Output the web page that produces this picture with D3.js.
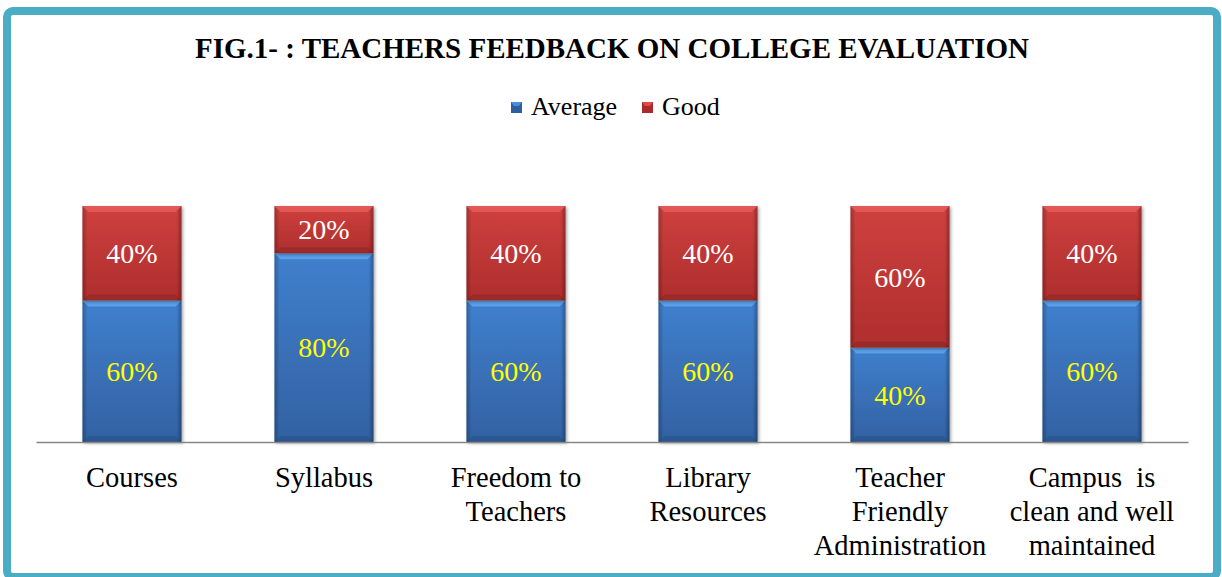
<!DOCTYPE html>
<html>
<head>
<meta charset="utf-8">
<script src="https://cdn.jsdelivr.net/npm/d3@7"></script>
<style>
	html, body { margin: 0; padding: 0; background: #fff; }
	#fig-svg { display: block; }
	#fig-svg text { font-family: "Liberation Serif", serif !important; }
</style>
</head>
<body>
<svg id="fig-svg" width="1222" height="577"></svg>
<script>
var categories = ["Courses", "Syllabus", "Freedom to Teachers", "Library Resources",
	"Teacher Friendly Administration", "Campus  is clean and well maintained"];
// wrapped lines for the axis labels
var categoryLines = [
	["Courses"],
	["Syllabus"],
	["Freedom to", "Teachers"],
	["Library", "Resources"],
	["Teacher", "Friendly", "Administration"],
	["Campus  is", "clean and well", "maintained"]
];
var seriesNames = ["Average", "Good"];
var averageValues = [60, 80, 60, 60, 40, 60];
var goodValues = [40, 20, 40, 40, 60, 40];

var FONT = "Liberation Serif";

var W = 1222, H = 577;
var margin = { top: 206, right: 34, bottom: 135, left: 36 };
var pw = W - margin.left - margin.right,
	ph = H - margin.top - margin.bottom;

var svg = d3.select("#fig-svg");
var defs = svg.append("defs");

function serif(sel) {
	sel.attr("font-family", FONT)
		.style("font-family", "'Liberation Serif', serif", "important");
	return sel;
}

// gradients for the bevelled bars
function vgrad(id, c1, c2) {
	var g = defs.append("linearGradient").attr("id", id)
		.attr("x1", 0).attr("y1", 0).attr("x2", 0).attr("y2", 1);
	g.append("stop").attr("offset", "0%").attr("stop-color", c1);
	g.append("stop").attr("offset", "100%").attr("stop-color", c2);
}
vgrad("blueFill", "#4386d8", "#3566ab");
vgrad("redFill", "#d94442", "#b8302f");

var side = defs.append("linearGradient").attr("id", "sideShade")
	.attr("x1", 0).attr("y1", 0).attr("x2", 1).attr("y2", 0);
side.append("stop").attr("offset", "0%").attr("stop-color", "#000").attr("stop-opacity", 0.28);
side.append("stop").attr("offset", "5%").attr("stop-color", "#000").attr("stop-opacity", 0.05);
side.append("stop").attr("offset", "95%").attr("stop-color", "#000").attr("stop-opacity", 0.05);
side.append("stop").attr("offset", "100%").attr("stop-color", "#000").attr("stop-opacity", 0.32);

var shadow = defs.append("filter").attr("id", "shadow")
	.attr("x", "-10%").attr("y", "-10%").attr("width", "130%").attr("height", "130%");
shadow.append("feDropShadow").attr("dx", 1.5).attr("dy", 1.5).attr("stdDeviation", 1.5)
	.attr("flood-color", "#000").attr("flood-opacity", 0.35);

// frame
svg.append("rect")
	.attr("x", 7).attr("y", 11).attr("width", 1210).attr("height", 566)
	.attr("rx", 6)
	.attr("fill", "#fff")
	.attr("stroke", "#4bacc6").attr("stroke-width", 8);

// title
serif(svg.append("text"))
	.attr("x", 612).attr("y", 58)
	.attr("text-anchor", "middle")
	.attr("font-size", 29).attr("font-weight", "bold")
	.attr("fill", "#000")
	.text("FIG.1- : TEACHERS FEEDBACK ON COLLEGE EVALUATION");

var g = svg.append("g").attr("transform", "translate(" + margin.left + "," + margin.top + ")");

var x = d3.scaleBand()
	.domain(categories)
	.range([0, pw])
	.paddingInner(0.484)
	.paddingOuter(0.242);

var y = d3.scaleLinear()
	.domain([0, 100])
	.range([ph, 0]);

var rows = categories.map(function (c, i) {
	return { cat: c, Average: averageValues[i], Good: goodValues[i] };
});
var stacked = d3.stack().keys(seriesNames)(rows);

var fills = { Average: "url(#blueFill)", Good: "url(#redFill)" };
var bevels = { Average: "#5ea4ec", Good: "#e65a57" };
var labelColors = { Average: "#ffff00", Good: "#ffffff" };

var layer = g.selectAll("g.layer")
	.data(stacked)
	.enter().append("g")
	.attr("class", "layer");

var seg = layer.selectAll("g.seg")
	.data(function (d) {
		return d.map(function (p) { return { key: d.key, p: p }; });
	})
	.enter().append("g")
	.attr("class", "seg");

seg.append("rect")
	.attr("x", function (d) { return x(d.p.data.cat); })
	.attr("y", function (d) { return y(d.p[1]); })
	.attr("width", x.bandwidth())
	.attr("height", function (d) { return y(d.p[0]) - y(d.p[1]); })
	.attr("fill", function (d) { return fills[d.key]; })
	.attr("filter", "url(#shadow)");

seg.append("rect")
	.attr("x", function (d) { return x(d.p.data.cat); })
	.attr("y", function (d) { return y(d.p[1]); })
	.attr("width", x.bandwidth())
	.attr("height", function (d) { return y(d.p[0]) - y(d.p[1]); })
	.attr("fill", "url(#sideShade)");

// top bevel strip
var bev = 6;
seg.append("path")
	.attr("d", function (d) {
		var x0 = x(d.p.data.cat), x1 = x0 + x.bandwidth(), t = y(d.p[1]);
		return "M" + x0 + "," + t + "L" + x1 + "," + t +
			"L" + (x1 - bev) + "," + (t + bev) + "L" + (x0 + bev) + "," + (t + bev) + "Z";
	})
	.attr("fill", function (d) { return bevels[d.key]; })
	.attr("opacity", 0.9);

// bottom darker edge
seg.append("path")
	.attr("d", function (d) {
		var x0 = x(d.p.data.cat), x1 = x0 + x.bandwidth(), b = y(d.p[0]);
		return "M" + x0 + "," + b + "L" + x1 + "," + b +
			"L" + (x1 - bev) + "," + (b - bev) + "L" + (x0 + bev) + "," + (b - bev) + "Z";
	})
	.attr("fill", "#000")
	.attr("opacity", 0.12);

serif(seg.append("text"))
	.attr("x", function (d) { return x(d.p.data.cat) + x.bandwidth() / 2; })
	.attr("y", function (d) { return (y(d.p[0]) + y(d.p[1])) / 2; })
	.attr("dy", "0.35em")
	.attr("text-anchor", "middle")
	.attr("font-size", 28)
	.attr("fill", function (d) { return labelColors[d.key]; })
	.text(function (d) { return (d.p[1] - d.p[0]) + "%"; });

// axis line
var xAxis = g.append("g")
	.attr("transform", "translate(0," + ph + ")")
	.call(d3.axisBottom(x).tickSize(0).tickFormat(""));
xAxis.select(".domain").attr("stroke", "#868686").attr("stroke-width", 1.5);

// category labels
var lab = serif(g.selectAll("text.cat")
	.data(categories)
	.enter().append("text"))
	.attr("class", "cat")
	.attr("text-anchor", "middle")
	.attr("font-size", 28.5)
	.attr("fill", "#000")
	.attr("xml:space", "preserve")
	.style("white-space", "pre")
	.attr("transform", function (d) {
		return "translate(" + (x(d) + x.bandwidth() / 2) + "," + (ph + 45) + ")";
	});
lab.selectAll("tspan")
	.data(function (d, i) { return categoryLines[i]; })
	.enter().append("tspan")
	.attr("x", 0)
	.attr("dy", function (d, i) { return i === 0 ? 0 : 34; })
	.text(function (d) { return d; });

// legend
var legend = svg.append("g").attr("transform", "translate(511,115)");
var legX = [0, 131];
var legColors = { Average: ["#4a8ddb", "#2f5e9e"], Good: ["#e04a47", "#a82a29"] };
seriesNames.forEach(function (s, i) {
	var lg = legend.append("g").attr("transform", "translate(" + legX[i] + ",0)");
	lg.append("rect").attr("x", 0).attr("y", -13).attr("width", 11).attr("height", 11)
		.attr("fill", legColors[s][1]);
	lg.append("path").attr("d", "M0,-13L11,-13L8,-9L3,-9Z").attr("fill", legColors[s][0]);
	serif(lg.append("text")).attr("x", 20).attr("y", 0)
		.attr("font-size", 26).attr("fill", "#000").text(s);
});
</script>
</body>
</html>
